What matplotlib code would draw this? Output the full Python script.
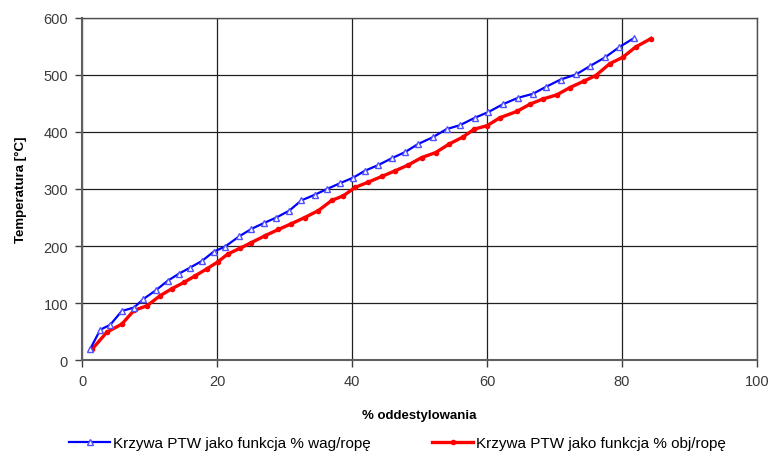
import matplotlib
matplotlib.use('Agg')
from matplotlib import pyplot as plt
plt.rcParams.update({'font.family': 'Liberation Sans', 'font.size': 10})

# krzywa PTW jako funkcja % wag/rope
wag_x = [1.2, 2.7, 4.2, 5.9, 7.7, 9.1, 10.9, 12.7, 14.3, 16.0, 17.8, 19.5, 21.2, 23.3, 25.1,
         26.9, 28.8, 30.7, 32.5, 34.5, 36.3, 38.2, 40.2, 41.9, 43.9, 45.9, 47.9, 49.8, 52.0,
         54.0, 56.0, 58.2, 60.2, 62.4, 64.6, 66.8, 68.7, 70.9, 73.2, 75.3, 77.5, 79.6, 81.8]
wag_t = [19, 53, 62, 86, 92, 107, 122, 139, 151, 162, 174, 190, 199, 217, 230,
         240, 250, 262, 280, 290, 300, 310, 320, 332, 342, 354, 365, 379, 391,
         405, 412, 425, 435, 449, 460, 467, 479, 492, 501, 516, 531, 549, 565]

# krzywa PTW jako funkcja % obj/rope
obj_x = [1.5, 3.7, 5.9, 7.7, 9.6, 11.6, 13.3, 15.1, 16.8, 18.5, 20.1, 21.6, 23.4, 25.1, 27.1,
         29.1, 31.0, 33.0, 35.0, 37.0, 38.7, 40.5, 42.4, 44.4, 46.4, 48.3, 50.3, 52.4, 54.4,
         56.4, 58.1, 60.0, 61.9, 64.4, 66.4, 68.3, 70.3, 72.3, 74.3, 76.1, 78.2, 80.1, 82.0, 84.3]
obj_t = [19, 49, 63, 87, 95, 113, 125, 136, 148, 160, 172, 186, 196, 206, 218,
         229, 239, 250, 262, 280, 288, 303, 312, 322, 332, 342, 355, 364, 379,
         391, 405, 411, 425, 436, 449, 458, 465, 478, 489, 499, 520, 531, 549, 564]

fig = plt.figure(figsize=(7.7, 4.52), dpi=100)
ax = fig.add_axes([0.1065, 0.2013, 0.8767, 0.7567])

ax.plot(wag_x, wag_t, '-', color='#0000ff', lw=1.6, marker='^', ms=5,
        mfc='white', mec='#5050ff', mew=1.0, label='Krzywa PTW jako funkcja % wag/ropę', zorder=4)
ax.plot(obj_x, obj_t, '-', color='#ff0000', lw=2.4, marker='o', ms=3,
        mfc='#ff0000', mec='#ff0000', label='Krzywa PTW jako funkcja % obj/ropę', zorder=3)

ax.set_xlim(0, 100)
ax.set_ylim(0, 600)
ax.set_xticks(range(0, 101, 20))
ax.set_yticks(range(0, 601, 100))
ax.grid(True, color='#202020', lw=0.9)
ax.set_axisbelow(True)
for s in ['left', 'bottom']:
    ax.spines[s].set_color('#606060')
    ax.spines[s].set_linewidth(1.5)
for s in ['top', 'right']:
    ax.spines[s].set_color('#505050')
    ax.spines[s].set_linewidth(1.0)
ax.tick_params(direction='out', length=5, width=1, color='#404040', labelcolor='#3a3a3a',
               labelsize=10.5, pad=5)

ax.set_xlabel('% oddestylowania', fontweight='bold', fontsize=9.5, labelpad=15)
ax.set_ylabel('Temperatura [°C]', fontweight='bold', fontsize=9.5, labelpad=12)

fig.legend(loc='lower center', bbox_to_anchor=(0.516, -0.028), ncol=2, frameon=False,
           fontsize=11, columnspacing=4.05, handlelength=2.7, handletextpad=0.15)

plt.savefig('out.png', dpi=100)
